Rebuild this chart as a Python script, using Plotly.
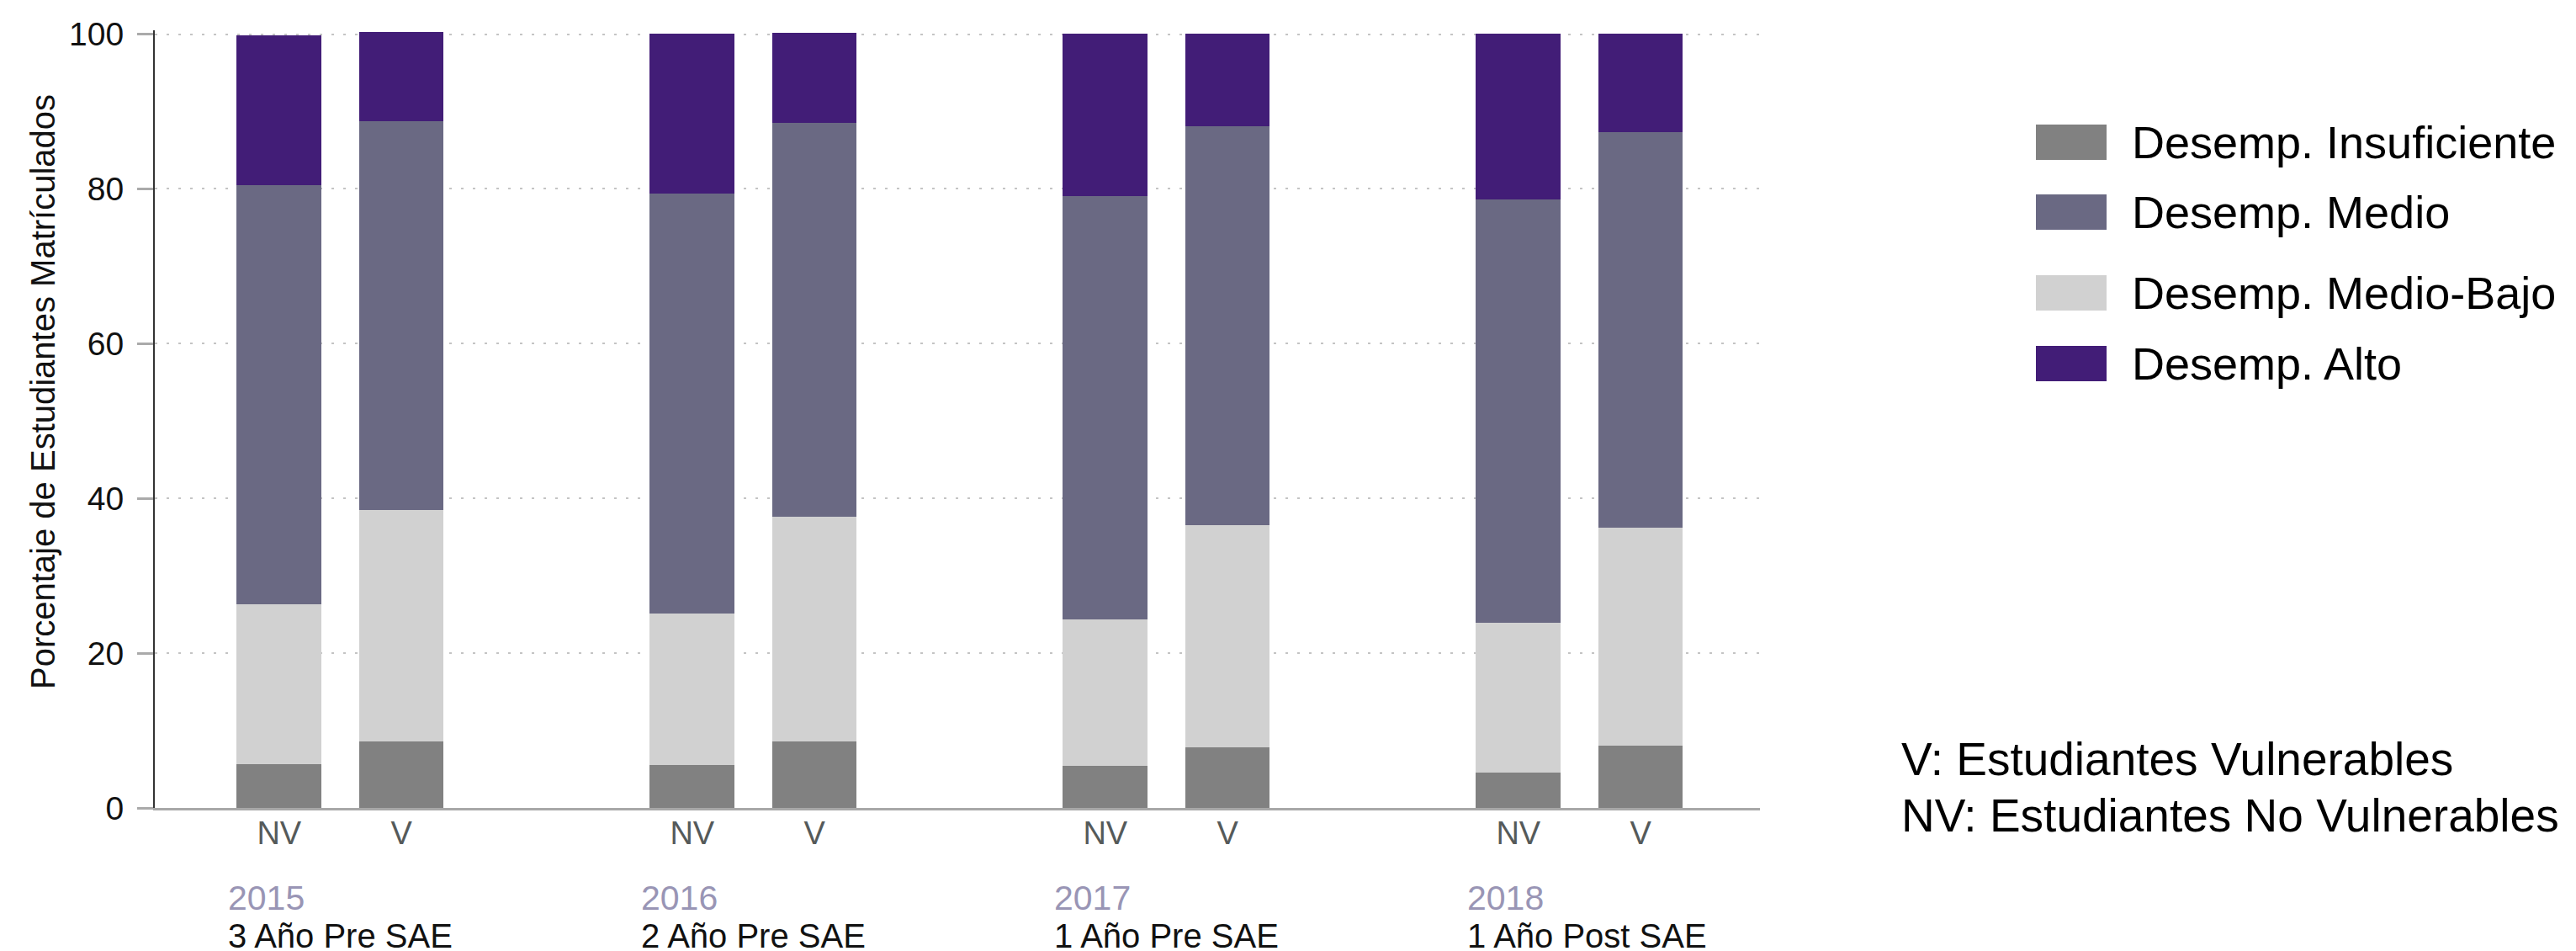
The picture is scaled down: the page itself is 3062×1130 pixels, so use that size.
import plotly.graph_objects as go

# ---------------- data ----------------
years = ["2015", "2016", "2017", "2018"]
periods = ["3 Año Pre SAE", "2 Año Pre SAE", "1 Año Pre SAE", "1 Año Post SAE"]
groups = ["NV", "V"]

levels = ["Desemp. Insuficiente", "Desemp. Medio-Bajo", "Desemp. Medio", "Desemp. Alto"]
colors = {
    "Desemp. Insuficiente": "#818181",
    "Desemp. Medio-Bajo": "#d1d1d1",
    "Desemp. Medio": "#6a6983",
    "Desemp. Alto": "#421d77",
}
legend_order = ["Desemp. Insuficiente", "Desemp. Medio", "Desemp. Medio-Bajo", "Desemp. Alto"]

# segment sizes (percent), per year, non-vulnerable (NV) and vulnerable (V)
insuficiente_nv = [5.7, 5.5, 5.4, 4.6]
insuficiente_v = [8.6, 8.6, 7.8, 8.0]
medio_bajo_nv = [20.6, 19.6, 19.0, 19.3]
medio_bajo_v = [29.9, 29.0, 28.7, 28.2]
medio_nv = [54.2, 54.3, 54.7, 54.7]
medio_v = [50.2, 50.9, 51.6, 51.1]
alto_nv = [19.4, 20.7, 21.0, 21.5]
alto_v = [11.6, 11.7, 12.0, 12.8]

series = {
    "Desemp. Insuficiente": (insuficiente_nv, insuficiente_v),
    "Desemp. Medio-Bajo": (medio_bajo_nv, medio_bajo_v),
    "Desemp. Medio": (medio_nv, medio_v),
    "Desemp. Alto": (alto_nv, alto_v),
}

y_ticks = [0, 20, 40, 60, 80, 100]
y_title = "Porcentaje de Estudiantes Matrículados"
notes = ["V: Estudiantes Vulnerables", "NV: Estudiantes No Vulnerables"]

# ---------------- layout helpers ----------------
OFF = 0.148      # offset of NV / V bars from group centre
BW = 0.205       # bar width
FONT = "Liberation Sans, Arial, Helvetica, sans-serif"

x_nv = [i - OFF for i in range(len(years))]
x_v = [i + OFF for i in range(len(years))]
x_all = []
for a, b in zip(x_nv, x_v):
    x_all += [a, b]
tick_text = []
for _ in years:
    tick_text += groups

fig = go.Figure()
for lvl in levels:
    nv, v = series[lvl]
    yv = []
    for a, b in zip(nv, v):
        yv += [a, b]
    fig.add_trace(go.Bar(
        x=x_all, y=yv, name=lvl, width=BW,
        marker=dict(color=colors[lvl], line=dict(width=0)),
        showlegend=False,
    ))

W, H = 3062, 1130
ML, MR, MT, MB = 176, 978, 28, 178
plot_h = H - MT - MB
plot_w = W - ML - MR
BASE = H - MB  # pixel row of y = 0

annotations = []
for i, (yr, per) in enumerate(zip(years, periods)):
    left = x_nv[i] - BW / 2
    annotations.append(dict(x=left, xref="x", y=0, yref="paper", text=yr,
                            showarrow=False, xanchor="left", yanchor="middle",
                            yshift=-107, xshift=-12,
                            font=dict(family=FONT, size=41, color="#9995b5")))
    annotations.append(dict(x=left, xref="x", y=0, yref="paper", text=per,
                            showarrow=False, xanchor="left", yanchor="middle",
                            yshift=-152, xshift=-12,
                            font=dict(family=FONT, size=40, color="#111111")))

# y-axis title (placed to match the reference's vertical position)
annotations.append(dict(x=(43 - ML) / plot_w, xref="paper", y=(BASE - 458) / plot_h, yref="paper",
                        text=y_title, textangle=-90, showarrow=False,
                        xanchor="center", yanchor="middle",
                        font=dict(family=FONT, size=40, color="#111111")))

# notes on the right
note_left = (2250 - ML) / plot_w
for txt, ypx in zip(notes, [894, 961]):
    annotations.append(dict(x=note_left, xref="paper", y=(BASE - ypx) / plot_h, yref="paper",
                            text=txt, showarrow=False, xanchor="left", yanchor="middle",
                            font=dict(family=FONT, size=55, color="#000000")))

# custom legend (large swatches)
shapes = []
sw_x0 = (2412 - ML) / plot_w
sw_x1 = (2496 - ML) / plot_w
txt_x = (2524 - ML) / plot_w
leg_centres = [161, 244, 340, 424]
for lvl, cy in zip(legend_order, leg_centres):
    yc = (BASE - cy) / plot_h
    hh = 21 / plot_h
    shapes.append(dict(type="rect", xref="paper", yref="paper",
                       x0=sw_x0, x1=sw_x1, y0=yc - hh, y1=yc + hh,
                       fillcolor=colors[lvl], line=dict(width=0)))
    annotations.append(dict(x=txt_x, xref="paper", y=yc, yref="paper", text=lvl,
                            showarrow=False, xanchor="left", yanchor="middle",
                            font=dict(family=FONT, size=54, color="#000000")))

fig.update_layout(
    barmode="stack",
    width=W, height=H,
    margin=dict(l=ML, r=MR, t=MT, b=MB, pad=0),
    plot_bgcolor="white", paper_bgcolor="white",
    font=dict(family=FONT, color="#111111"),
    bargap=0,
    shapes=shapes,
    annotations=annotations,
    xaxis=dict(
        range=[-0.449, 3.437],
        tickmode="array", tickvals=x_all, ticktext=tick_text,
        tickfont=dict(family=FONT, size=38, color="#555a5a"),
        ticks="", showgrid=False, zeroline=False,
        ticklabelstandoff=-6,
        showline=True, linecolor="#a8a8a8", linewidth=3,
        fixedrange=True,
    ),
    yaxis=dict(
        range=[0, 100.5],
        tickmode="array", tickvals=y_ticks,
        tickfont=dict(family=FONT, size=39, color="#111111"),
        ticks="outside", ticklen=19, tickwidth=3, tickcolor="#aaaaaa",
        ticklabelstandoff=8,
        showgrid=True, gridcolor="#c4c4c4", gridwidth=2, griddash="3px,11px",
        zeroline=False,
        showline=True, linecolor="#333333", linewidth=2,
    ),
)

fig.write_html("out.html")
